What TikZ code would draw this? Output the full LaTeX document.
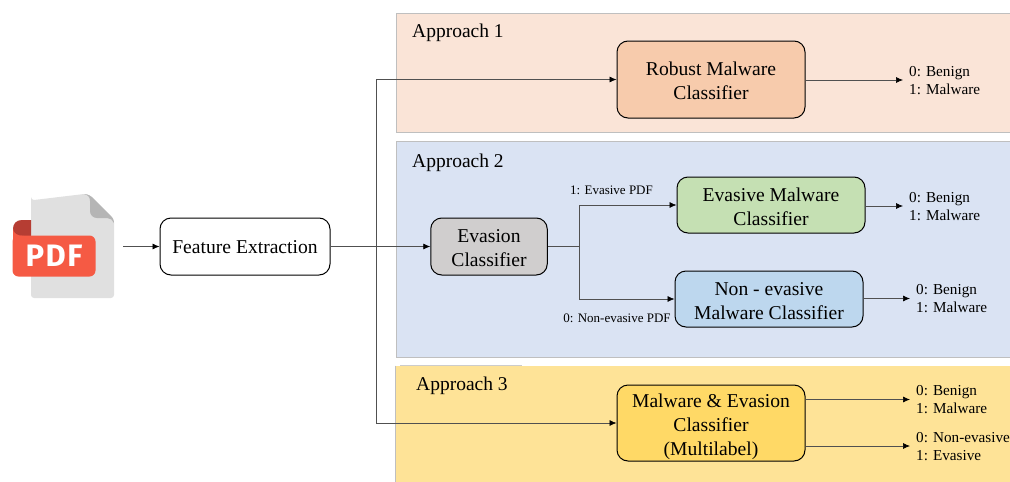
\documentclass[tikz,border=0pt]{standalone}
\usepackage{fontspec}
\setmainfont{Liberation Serif}
\newfontfamily\iconfont[LetterSpace=5]{Fira Sans}
\usetikzlibrary{arrows.meta}
\definecolor{linegray}{HTML}{505050}
\definecolor{pdfred}{RGB}{245,90,68}
\tikzset{node distance=2cm, auto, >={Latex[length=7pt,width=6pt,black]}}
\tikzset{
  band/.style={draw=black!25, line width=0.8pt, inner sep=0pt},
  clsbox/.style={draw=black, line width=1pt, rounded corners=11pt, align=center, inner sep=0pt,
    text depth=0pt, text height=40pt, font=\fontsize{19.6}{24}\selectfont},
  bandtitle/.style={anchor=west, inner sep=0pt, font=\fontsize{19.5}{24}\selectfont},
  outlabel/.style={anchor=west, align=left, inner xsep=6pt, inner ysep=0pt,
    text depth=0pt, font=\fontsize{15.2}{18}\selectfont},
  branchlabel/.style={inner sep=0pt, font=\fontsize{13}{15}\selectfont},
  conn/.style={draw=linegray, line width=0.7pt}
}

\begin{document}
\begin{tikzpicture}[x=1pt,y=-1pt]
  \useasboundingbox (0,0) rectangle (1010,482);

  % bands
  \node (bandA) at (704,72.5) [band, fill={rgb,255:red,250;green,228;blue,215}, minimum width=616pt, minimum height=119pt] {};
  \node (bandB) at (704,249) [band, fill={rgb,255:red,218;green,227;blue,243}, minimum width=616pt, minimum height=216pt] {};
  \node (bandC) at (704,424) [band, draw=none, fill={rgb,255:red,254;green,227;blue,151}, minimum width=616pt, minimum height=116pt] {};
  \draw[black!25, line width=0.8pt] (bandC.north west) -- (bandC.south west);
  \draw[black!20, line width=0.8pt] (400,365.3) -- (522,365.3);

  \node (titleA) at (412,33) [bandtitle] {Approach 1};
  \node (titleB) at (412,163) [bandtitle] {Approach 2};
  \node (titleC) at (416,386) [bandtitle] {Approach 3};

  % pdf icon
  \fill[black!12] (31,197) arc (180:90:3) -- (84,194) .. controls (88,194) and (91,196) .. (94,199) -- (109,214) .. controls (112,217) and (114,219) .. (114,223) -- (114,295) arc (0:90:3) -- (34,298) arc (90:180:3) -- cycle;
  \fill[black!29] (84,194) .. controls (88,194) and (91,196) .. (94,199) -- (109,214) .. controls (112,217) and (114,219) .. (114,223) .. controls (113,220) and (110,218) .. (107,218) -- (97,218) .. controls (93,218) and (90,215) .. (90,211) -- (90,201) .. controls (90,197) and (88,195) .. (84,194) -- cycle;
  \fill[red!60!black!90!orange!80!white] (31,220) -- (22,220) .. controls (16,220) and (13,224) .. (13,229) -- (13,245) -- (31,245) -- cycle;
  \fill[pdfred] (13,228) .. controls (13,233) and (17,236) .. (24,236) -- (24,245) -- (13,245) -- cycle;
  \node (pdftag) at (54,256) [fill=pdfred, rounded corners=6pt, minimum width=83pt, minimum height=41pt, inner sep=0pt, text=white, font=\iconfont\bfseries\fontsize{31}{31}\selectfont] {PDF};
  \coordinate (pdfout) at (123,246.5);

  \node (feat) at (245,246.5) [clsbox, text height=13.5pt, minimum width=170pt, minimum height=57pt] {Feature Extraction};
  \node (evasion) [clsbox, text height=39pt, right of=feat, node distance=244pt, fill={rgb,255:red,208;green,206;blue,206}, minimum width=116.5pt, minimum height=57pt] {Evasion\\Classifier};
  \node (robust) at (711,79.5) [clsbox, text height=39pt, fill={rgb,255:red,247;green,203;blue,172}, minimum width=188pt, minimum height=77pt] {Robust Malware\\Classifier};
  \node (evmal) at (771,205) [clsbox, text height=41pt, fill={rgb,255:red,197;green,224;blue,179}, minimum width=188pt, minimum height=56pt] {Evasive Malware\\Classifier};
  \node (nonev) at (769,299) [clsbox, fill={rgb,255:red,189;green,215;blue,238}, minimum width=188pt, minimum height=56pt] {Non - evasive\\Malware Classifier};
  \node (malev) [clsbox, text height=65pt, below of=robust, node distance=343.5pt, fill={rgb,255:red,255;green,217;blue,102}, minimum width=188pt, minimum height=76pt] {Malware \& Evasion\\Classifier\\(Multilabel)};

  \node (outA) at (903,80) [outlabel] {0: Benign\\1: Malware};
  \node (outB) at (903,206) [outlabel] {0: Benign\\1: Malware};
  \node (outC) at (910,298.5) [outlabel] {0: Benign\\1: Malware};
  \node (outD) at (910,399.5) [outlabel] {0: Benign\\1: Malware};
  \node (outE) at (910,446) [outlabel] {0: Non-evasive\\1: Evasive};

  \node (evlabel) at (611.5,190) [branchlabel] {1: Evasive PDF};
  \node (nonlabel) at (617,318) [branchlabel] {0: Non-evasive PDF};

  \coordinate (trunk) at (376,246.5);
  \coordinate (split) at (579,246.5);

  \draw[conn, ->] (pdfout) -- (feat);
  \draw[conn, ->] (feat) -- (evasion);
  \draw[conn, ->] (trunk) |- (robust);
  \draw[conn, ->] (trunk) |- (malev);
  \draw[conn] (evasion) -- (split);
  \draw[conn, ->] (split) |- (evmal);
  \draw[conn, ->] (split) |- (nonev);
  \draw[conn, ->] (outA.west -| robust.east) -- (outA);
  \draw[conn, ->] (outB.west -| evmal.east) -- (outB);
  \draw[conn, ->] (outC.west -| nonev.east) -- (outC);
  \draw[conn, ->] (outD.west -| malev.east) -- (outD);
  \draw[conn, ->] (outE.west -| malev.east) -- (outE);
\end{tikzpicture}
\end{document}
